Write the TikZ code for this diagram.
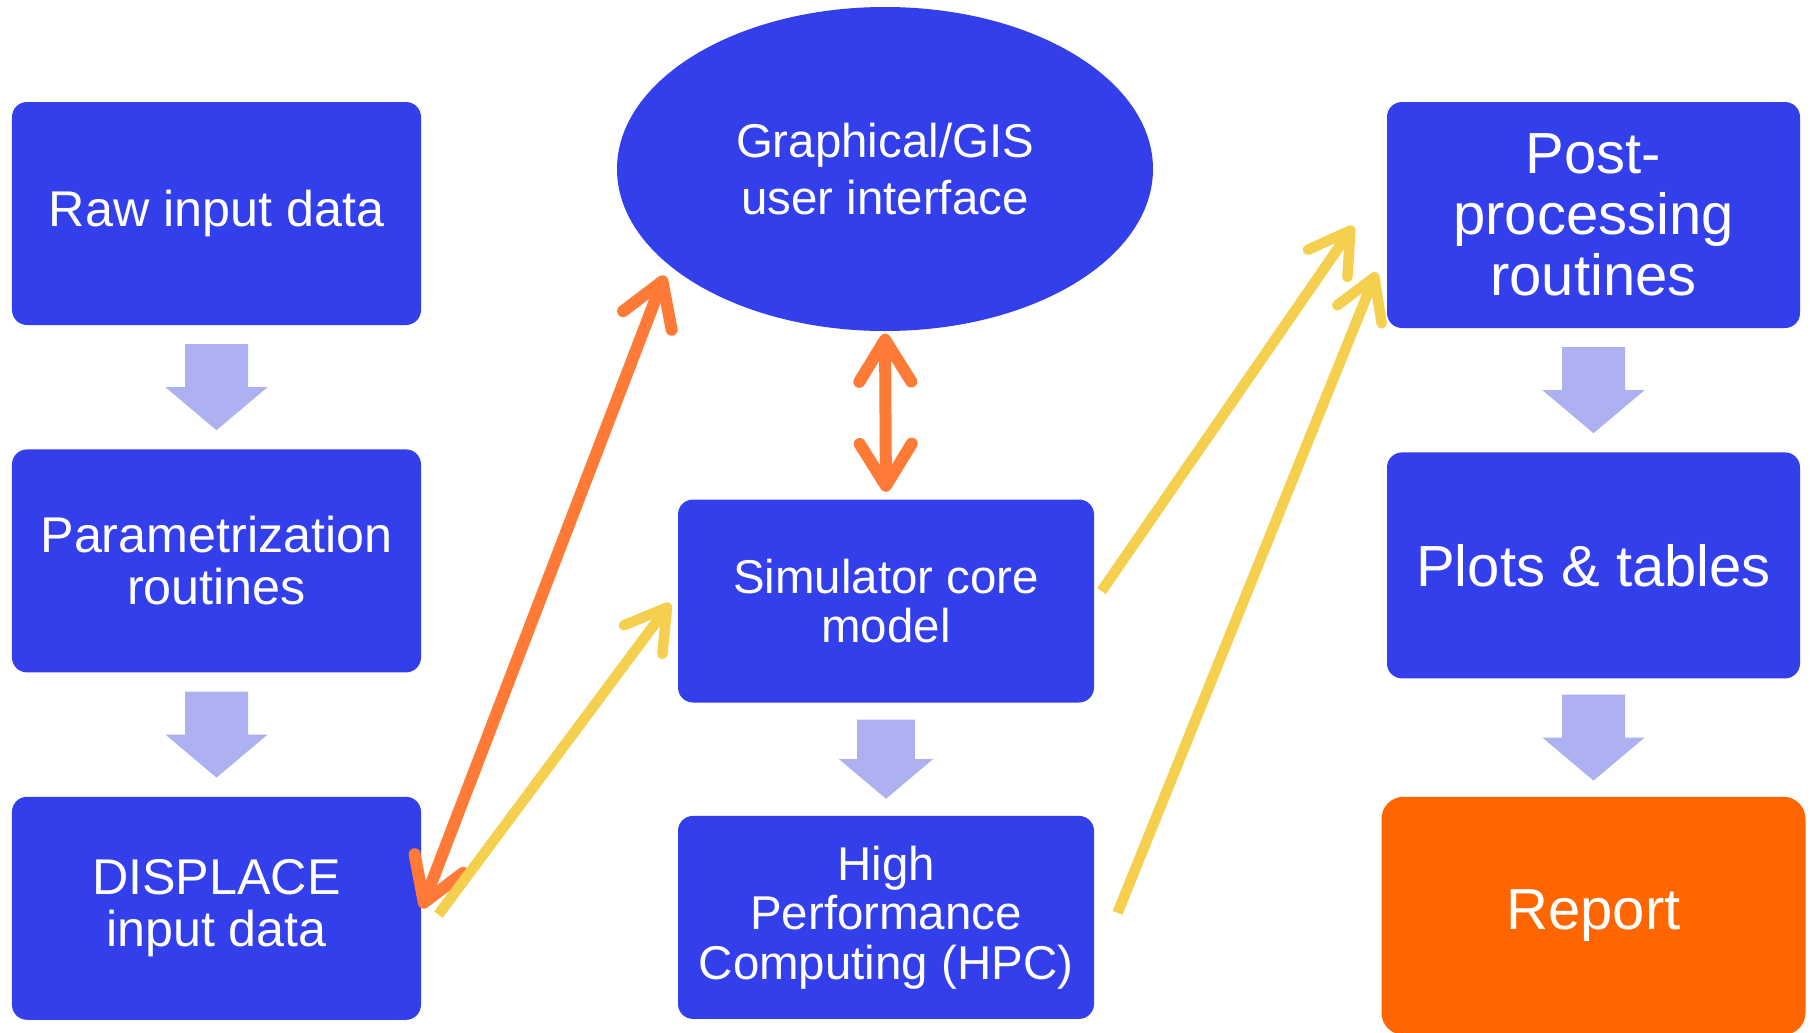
\documentclass[tikz,border=0pt]{standalone}
\usepackage{fontspec}
\setmainfont{Liberation Sans}
\usetikzlibrary{positioning,calc,arrows.meta,shapes.geometric}

\definecolor{boxblue}{HTML}{323FEB}
\definecolor{pale}{HTML}{ADB1F1}
\definecolor{linkorange}{HTML}{FE7A36}
\definecolor{linkyellow}{HTML}{F5D04E}
\definecolor{reportorange}{HTML}{FF6600}

\tikzset{
  box/.style={fill=boxblue, text=white, rounded corners=0.15cm, inner sep=0pt, align=center},
  leftbox/.style={box, minimum width=4.09cm, minimum height=2.23cm, font=\fontsize{14.3}{14.8}\selectfont},
  midbox/.style={box, minimum width=4.16cm, minimum height=2.03cm, font=\fontsize{13.5}{14.1}\selectfont},
  rightbox/.style={box, minimum width=4.13cm, minimum height=2.26cm, font=\fontsize{16.5}{17.4}\selectfont},
  reportbox/.style={rightbox, fill=reportorange, minimum width=4.24cm, minimum height=2.38cm, rounded corners=0.22cm},
  gisell/.style={ellipse, fill=boxblue, text=white, inner sep=0pt, align=center,
    minimum width=5.36cm, minimum height=3.24cm, font=\fontsize{13.5}{16.2}\selectfont},
  otip/.tip={Straight Barb[length=0.42cm, width=0.52cm, round]},
  ytip/.tip={Straight Barb[length=0.4cm, width=0.48cm, round]},
  orangelink/.style={draw=linkorange, line width=0.12cm},
  yellowlink/.style={draw=linkyellow, line width=0.105cm, -ytip},
  blockdown/.pic={
    \fill[pale] (-0.315,0.43) -- (-0.315,0) -- (-0.51,0) -- (0,-0.43)
      -- (0.51,0) -- (0.315,0) -- (0.315,0.43) -- cycle;
  }
}

\begin{document}
\begin{tikzpicture}
  \useasboundingbox (0,0) rectangle (18.15,10.32);
  % left column
  \node[leftbox] (raw) at (2.165,8.185) {Raw input data};
  \node[leftbox, below=1.23cm of raw] (param) {Parametrization\\routines};
  \node[leftbox, below=1.23cm of param] (disp) {DISPLACE\\input data};
  % middle column
  \node[gisell] (gis) at (8.85,8.63) {Graphical/GIS\\user interface};
  \node[midbox] (sim) at (8.86,4.31) {Simulator core\\model};
  \node[midbox, below=1.12cm of sim] (hpc) {High\\Performance\\Computing (HPC)};
  % right column
  \node[rightbox] (post) at (15.935,8.17) {Post-\\processing\\routines};
  \node[rightbox, below=1.23cm of post] (plots) {Plots \& tables};
  \node[reportbox, below=1.17cm of plots] (report) {Report};
  % block arrows
  \pic at ($(raw.south)!0.5!(param.north)$) {blockdown};
  \pic at ($(param.south)!0.5!(disp.north)$) {blockdown};
  \pic[scale=0.92] at ($(sim.south)!0.5!(hpc.north)$) {blockdown};
  \pic at ($(post.south)!0.5!(plots.north)$) {blockdown};
  \pic at ($(plots.south)!0.5!(report.north)$) {blockdown};
  % links
  \draw[orangelink, otip-otip, shorten >=0.11cm] (disp.east) -- (gis.204);
  \draw[orangelink, otip-otip, shorten <=0.02cm, shorten >=0.07cm] (gis.south) -- (sim.north);
  \draw[yellowlink, shorten <=0.28cm, shorten >=0.12cm] (disp.-8) -- (sim.178);
  \draw[yellowlink, shorten <=0.12cm, shorten >=0.58cm] (sim.east) -- (post.170);
  \draw[yellowlink, shorten <=0.61cm, shorten >=0.265cm] (hpc.-14) -- (post.189);
\end{tikzpicture}
\end{document}
